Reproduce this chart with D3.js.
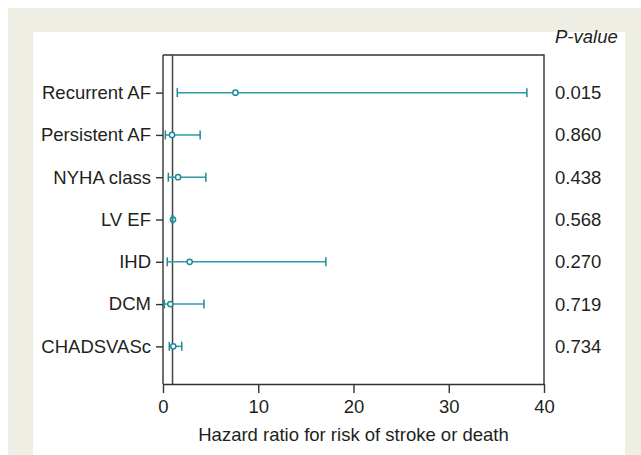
<!DOCTYPE html>
<html>
<head>
<meta charset="utf-8">
<script src="https://cdn.jsdelivr.net/npm/d3@7"></script>
<style>
  body { margin: 0; background: #fff; }
  svg text { font-family: "Liberation Sans", Arial, Helvetica, sans-serif; fill: #231f20; }
</style>
</head>
<body>
<div id="chart"></div>
<script>
const categories = ["Recurrent AF", "Persistent AF", "NYHA class", "LV EF", "IHD", "DCM", "CHADSVASc"];
const hazardRatio = [7.6, 0.95, 1.58, 1.05, 2.8, 0.77, 1.08];
const lowerCI = [1.5, 0.25, 0.56, 0.97, 0.45, 0.14, 0.66];
const upperCI = [38.2, 3.9, 4.5, 1.03, 17.1, 4.3, 1.97];
const pValues = ["0.015", "0.860", "0.438", "0.568", "0.270", "0.719", "0.734"];
const xTicks = [0, 10, 20, 30, 40];

function drawChart() {
    const width = 641, height = 455;
    const margin = { top: 55, right: 97, bottom: 71, left: 163 };
    const fontSize = "18.5px";

    const svg = d3.select("#chart")
        .append("svg")
        .attr("width", width)
        .attr("height", height);

    // panel backgrounds
    svg.append("rect")
        .attr("x", 8).attr("y", 8)
        .attr("width", width - 8).attr("height", height - 8)
        .attr("fill", "#efeee4");
    svg.append("rect")
        .attr("x", 33).attr("y", 32)
        .attr("width", 592).attr("height", height - 32)
        .attr("fill", "#fff");

    const x = d3.scaleLinear()
        .domain([0, 40])
        .range([margin.left, width - margin.right]);

    const y = d3.scalePoint()
        .domain(categories)
        .range([margin.top, height - margin.bottom])
        .padding(0.89);

    const axisColor = "#333";

    // frame: top and right
    svg.append("path")
        .attr("d", `M${x(0)},${margin.top}H${x(40)}V${height - margin.bottom}`)
        .attr("fill", "none")
        .attr("stroke", axisColor)
        .attr("stroke-width", 1.4);

    // reference line at HR = 1
    svg.append("line")
        .attr("x1", x(1)).attr("x2", x(1))
        .attr("y1", margin.top).attr("y2", height - margin.bottom)
        .attr("stroke", "#444")
        .attr("stroke-width", 1.5);

    const xAxis = d3.axisBottom(x)
        .tickValues(xTicks)
        .tickSize(9)
        .tickPadding(7)
        .tickSizeOuter(0);

    const gx = svg.append("g")
        .attr("transform", `translate(0, ${height - margin.bottom})`)
        .call(xAxis);
    gx.selectAll("text").style("font-size", fontSize);

    const yAxis = d3.axisLeft(y)
        .tickSize(7)
        .tickPadding(5)
        .tickSizeOuter(0);

    const gy = svg.append("g")
        .attr("transform", `translate(${margin.left}, 0)`)
        .call(yAxis);
    gy.selectAll("text").style("font-size", fontSize);

    gy.select(".domain").attr("d", `M0,${margin.top}V${height - margin.bottom}`);
    svg.selectAll(".domain, .tick line")
        .attr("stroke", axisColor)
        .attr("stroke-width", 1.4);
    svg.selectAll(".tick text").attr("fill", "#231f20");

    // axis title
    svg.append("text")
        .attr("x", (x(0) + x(40)) / 2)
        .attr("y", 441)
        .attr("text-anchor", "middle")
        .style("font-size", fontSize)
        .text("Hazard ratio for risk of stroke or death");

    const rows = categories.map((c, i) => ({
        name: c, hr: hazardRatio[i], lo: lowerCI[i], hi: upperCI[i], p: pValues[i]
    }));

    const teal = "#1a8b97";
    const barColor = "#2e9aa4";
    const capH = 4.5;

    const g = svg.append("g").attr("class", "marks");

    // CI lines
    g.selectAll(".ci")
        .data(rows)
        .join("line")
        .attr("class", "ci")
        .attr("x1", d => x(d.lo))
        .attr("x2", d => x(d.hi))
        .attr("y1", d => y(d.name))
        .attr("y2", d => y(d.name))
        .attr("stroke", barColor)
        .attr("stroke-width", 1.5);

    // point estimates
    g.selectAll(".hr")
        .data(rows)
        .join("circle")
        .attr("class", "hr")
        .attr("cx", d => x(d.hr))
        .attr("cy", d => y(d.name))
        .attr("r", 2.6)
        .attr("fill", "#fff")
        .attr("stroke", teal)
        .attr("stroke-width", 1.5);

    // caps drawn last (they cover the point when the CI is tiny)
    ["lo", "hi"].forEach(k => {
        g.selectAll(".cap-" + k)
            .data(rows)
            .join("line")
            .attr("class", "cap-" + k)
            .attr("x1", d => x(d[k]))
            .attr("x2", d => x(d[k]))
            .attr("y1", d => y(d.name) - capH)
            .attr("y2", d => y(d.name) + capH)
            .attr("stroke", teal)
            .attr("stroke-width", 1.5);
    });

    // p-values column
    svg.append("text")
        .attr("x", 555)
        .attr("y", 43)
        .style("font-size", fontSize)
        .style("font-style", "italic")
        .text("P-value");

    svg.selectAll(".pval")
        .data(rows)
        .join("text")
        .attr("class", "pval")
        .attr("x", 555)
        .attr("y", d => y(d.name))
        .attr("dy", "0.35em")
        .style("font-size", fontSize)
        .text(d => d.p);
}

drawChart();
</script>
</body>
</html>
